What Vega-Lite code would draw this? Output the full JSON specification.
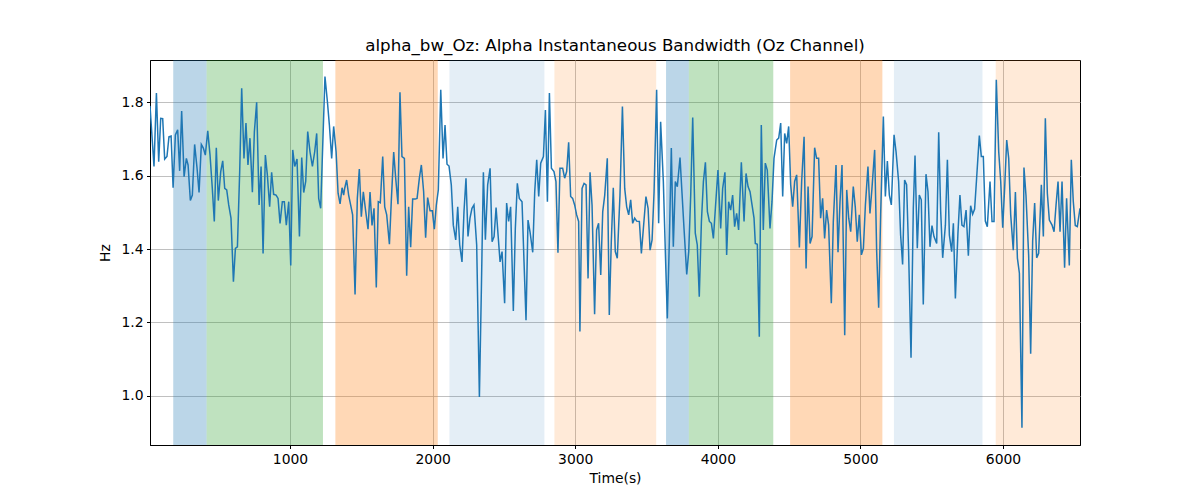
{
  "$schema": "https://vega.github.io/schema/vega-lite/v6.json",
  "autosize": "none",
  "width": 930,
  "height": 385,
  "padding": {"left": 150, "top": 60, "right": 120, "bottom": 55},
  "background": "white",
  "title": {"text": "alpha_bw_Oz: Alpha Instantaneous Bandwidth (Oz Channel)", "font": "DejaVu Sans", "fontSize": 16.7, "fontWeight": "normal", "color": "black", "anchor": "middle", "offset": 5},
  "config": {
    "view": {"stroke": "black", "strokeWidth": 1},
    "axis": {"labelFont": "DejaVu Sans", "labelFontSize": 13.9, "labelColor": "black", "titleFont": "DejaVu Sans", "titleFontSize": 13.9, "titleFontWeight": "normal", "titleColor": "black", "tickColor": "black", "tickSize": 3.5, "labelPadding": 3.5, "domainColor": "black", "gridColor": "#b0b0b0", "gridWidth": 0.8}
  },
  "datasets": {
    "bands": [
      {"start": 181, "end": 415, "kind": "a"},
      {"start": 415, "end": 1231, "kind": "b"},
      {"start": 1318, "end": 2036, "kind": "c"},
      {"start": 2118, "end": 2784, "kind": "d"},
      {"start": 2854, "end": 3568, "kind": "e"},
      {"start": 3637, "end": 3797, "kind": "a"},
      {"start": 3797, "end": 4389, "kind": "b"},
      {"start": 4507, "end": 5154, "kind": "c"},
      {"start": 5235, "end": 5856, "kind": "d"},
      {"start": 5949, "end": 6540, "kind": "e"}
    ],
    "series": [
      {"t": 18, "v": 1.79}, {"t": 46, "v": 1.625}, {"t": 63, "v": 1.825}, {"t": 79, "v": 1.638}, {"t": 93, "v": 1.756}, {"t": 107, "v": 1.755}, {"t": 121, "v": 1.645}, {"t": 137, "v": 1.652}, {"t": 151, "v": 1.706}, {"t": 166, "v": 1.708}, {"t": 180, "v": 1.567}, {"t": 196, "v": 1.711}, {"t": 212, "v": 1.725}, {"t": 226, "v": 1.613}, {"t": 240, "v": 1.776}, {"t": 257, "v": 1.597}, {"t": 273, "v": 1.647}, {"t": 285, "v": 1.629}, {"t": 301, "v": 1.532}, {"t": 315, "v": 1.547}, {"t": 331, "v": 1.685}, {"t": 348, "v": 1.62}, {"t": 362, "v": 1.554}, {"t": 378, "v": 1.685}, {"t": 392, "v": 1.675}, {"t": 406, "v": 1.656}, {"t": 423, "v": 1.722}, {"t": 439, "v": 1.656}, {"t": 455, "v": 1.565}, {"t": 469, "v": 1.475}, {"t": 483, "v": 1.676}, {"t": 497, "v": 1.532}, {"t": 514, "v": 1.611}, {"t": 528, "v": 1.64}, {"t": 542, "v": 1.565}, {"t": 556, "v": 1.561}, {"t": 570, "v": 1.52}, {"t": 586, "v": 1.484}, {"t": 603, "v": 1.311}, {"t": 617, "v": 1.402}, {"t": 631, "v": 1.406}, {"t": 647, "v": 1.611}, {"t": 661, "v": 1.838}, {"t": 677, "v": 1.647}, {"t": 691, "v": 1.743}, {"t": 705, "v": 1.629}, {"t": 719, "v": 1.702}, {"t": 736, "v": 1.555}, {"t": 750, "v": 1.72}, {"t": 766, "v": 1.8}, {"t": 783, "v": 1.52}, {"t": 797, "v": 1.625}, {"t": 811, "v": 1.388}, {"t": 827, "v": 1.656}, {"t": 841, "v": 1.602}, {"t": 857, "v": 1.515}, {"t": 871, "v": 1.609}, {"t": 885, "v": 1.549}, {"t": 902, "v": 1.547}, {"t": 916, "v": 1.538}, {"t": 930, "v": 1.47}, {"t": 946, "v": 1.529}, {"t": 960, "v": 1.529}, {"t": 974, "v": 1.465}, {"t": 991, "v": 1.529}, {"t": 1005, "v": 1.355}, {"t": 1019, "v": 1.67}, {"t": 1033, "v": 1.625}, {"t": 1049, "v": 1.645}, {"t": 1066, "v": 1.434}, {"t": 1082, "v": 1.649}, {"t": 1096, "v": 1.554}, {"t": 1110, "v": 1.584}, {"t": 1124, "v": 1.72},
      {"t": 1140, "v": 1.665}, {"t": 1157, "v": 1.625}, {"t": 1173, "v": 1.665}, {"t": 1187, "v": 1.715}, {"t": 1201, "v": 1.538}, {"t": 1215, "v": 1.511}, {"t": 1245, "v": 1.87}, {"t": 1262, "v": 1.802}, {"t": 1276, "v": 1.738}, {"t": 1292, "v": 1.647}, {"t": 1306, "v": 1.734}, {"t": 1323, "v": 1.665}, {"t": 1337, "v": 1.552}, {"t": 1351, "v": 1.523}, {"t": 1365, "v": 1.567}, {"t": 1376, "v": 1.547}, {"t": 1383, "v": 1.565}, {"t": 1397, "v": 1.588}, {"t": 1411, "v": 1.547}, {"t": 1425, "v": 1.52}, {"t": 1439, "v": 1.493}, {"t": 1456, "v": 1.276}, {"t": 1472, "v": 1.538}, {"t": 1486, "v": 1.618}, {"t": 1500, "v": 1.488}, {"t": 1514, "v": 1.556}, {"t": 1531, "v": 1.502}, {"t": 1547, "v": 1.454}, {"t": 1561, "v": 1.555}, {"t": 1575, "v": 1.464}, {"t": 1589, "v": 1.511}, {"t": 1605, "v": 1.295}, {"t": 1619, "v": 1.529}, {"t": 1633, "v": 1.526}, {"t": 1650, "v": 1.652}, {"t": 1664, "v": 1.515}, {"t": 1678, "v": 1.493}, {"t": 1697, "v": 1.413}, {"t": 1711, "v": 1.538}, {"t": 1727, "v": 1.664}, {"t": 1741, "v": 1.593}, {"t": 1757, "v": 1.522}, {"t": 1771, "v": 1.827}, {"t": 1785, "v": 1.652}, {"t": 1802, "v": 1.647}, {"t": 1818, "v": 1.327}, {"t": 1832, "v": 1.515}, {"t": 1846, "v": 1.405}, {"t": 1860, "v": 1.536}, {"t": 1877, "v": 1.536}, {"t": 1891, "v": 1.538}, {"t": 1907, "v": 1.593}, {"t": 1921, "v": 1.629}, {"t": 1937, "v": 1.556}, {"t": 1951, "v": 1.431}, {"t": 1965, "v": 1.54}, {"t": 1982, "v": 1.504}, {"t": 1998, "v": 1.504}, {"t": 2012, "v": 1.454}, {"t": 2026, "v": 1.52}, {"t": 2040, "v": 1.561}, {"t": 2057, "v": 1.834}, {"t": 2073, "v": 1.647}, {"t": 2087, "v": 1.738}, {"t": 2101, "v": 1.631}, {"t": 2115, "v": 1.626}, {"t": 2131, "v": 1.575}, {"t": 2145, "v": 1.465}, {"t": 2162, "v": 1.425}, {"t": 2176, "v": 1.515}, {"t": 2190, "v": 1.411},
      {"t": 2206, "v": 1.365}, {"t": 2220, "v": 1.502}, {"t": 2234, "v": 1.593}, {"t": 2248, "v": 1.434}, {"t": 2262, "v": 1.484}, {"t": 2276, "v": 1.511}, {"t": 2290, "v": 1.52}, {"t": 2309, "v": 1.411}, {"t": 2328, "v": 0.997}, {"t": 2342, "v": 1.293}, {"t": 2356, "v": 1.609}, {"t": 2370, "v": 1.425}, {"t": 2386, "v": 1.575}, {"t": 2403, "v": 1.62}, {"t": 2417, "v": 1.42}, {"t": 2431, "v": 1.434}, {"t": 2445, "v": 1.513}, {"t": 2459, "v": 1.438}, {"t": 2473, "v": 1.365}, {"t": 2487, "v": 1.393}, {"t": 2505, "v": 1.252}, {"t": 2519, "v": 1.525}, {"t": 2533, "v": 1.475}, {"t": 2547, "v": 1.515}, {"t": 2566, "v": 1.231}, {"t": 2580, "v": 1.456}, {"t": 2594, "v": 1.579}, {"t": 2608, "v": 1.538}, {"t": 2627, "v": 1.529}, {"t": 2641, "v": 1.365}, {"t": 2655, "v": 1.206}, {"t": 2669, "v": 1.479}, {"t": 2683, "v": 1.447}, {"t": 2702, "v": 1.391}, {"t": 2716, "v": 1.556}, {"t": 2730, "v": 1.643}, {"t": 2744, "v": 1.543}, {"t": 2758, "v": 1.634}, {"t": 2777, "v": 1.652}, {"t": 2791, "v": 1.779}, {"t": 2805, "v": 1.529}, {"t": 2819, "v": 1.825}, {"t": 2833, "v": 1.62}, {"t": 2851, "v": 1.611}, {"t": 2865, "v": 1.584}, {"t": 2879, "v": 1.39}, {"t": 2893, "v": 1.62}, {"t": 2912, "v": 1.62}, {"t": 2926, "v": 1.593}, {"t": 2940, "v": 1.611}, {"t": 2954, "v": 1.691}, {"t": 2968, "v": 1.543}, {"t": 2982, "v": 1.538}, {"t": 2996, "v": 1.52}, {"t": 3010, "v": 1.493}, {"t": 3024, "v": 1.475}, {"t": 3033, "v": 1.175}, {"t": 3048, "v": 1.565}, {"t": 3062, "v": 1.579}, {"t": 3076, "v": 1.575}, {"t": 3090, "v": 1.32}, {"t": 3104, "v": 1.609}, {"t": 3118, "v": 1.52}, {"t": 3136, "v": 1.222}, {"t": 3150, "v": 1.452}, {"t": 3164, "v": 1.47}, {"t": 3179, "v": 1.329}, {"t": 3193, "v": 1.502}, {"t": 3207, "v": 1.547}, {"t": 3225, "v": 1.647}, {"t": 3239, "v": 1.22},
      {"t": 3253, "v": 1.42}, {"t": 3267, "v": 1.567}, {"t": 3281, "v": 1.393}, {"t": 3295, "v": 1.375}, {"t": 3314, "v": 1.547}, {"t": 3331, "v": 1.788}, {"t": 3347, "v": 1.565}, {"t": 3361, "v": 1.515}, {"t": 3375, "v": 1.493}, {"t": 3389, "v": 1.534}, {"t": 3403, "v": 1.47}, {"t": 3417, "v": 1.484}, {"t": 3431, "v": 1.476}, {"t": 3450, "v": 1.475}, {"t": 3464, "v": 1.388}, {"t": 3478, "v": 1.456}, {"t": 3496, "v": 1.543}, {"t": 3511, "v": 1.511}, {"t": 3525, "v": 1.397}, {"t": 3539, "v": 1.425}, {"t": 3553, "v": 1.556}, {"t": 3571, "v": 1.834}, {"t": 3585, "v": 1.47}, {"t": 3599, "v": 1.747}, {"t": 3618, "v": 1.584}, {"t": 3632, "v": 1.393}, {"t": 3646, "v": 1.211}, {"t": 3660, "v": 1.42}, {"t": 3674, "v": 1.675}, {"t": 3688, "v": 1.406}, {"t": 3702, "v": 1.584}, {"t": 3716, "v": 1.57}, {"t": 3735, "v": 1.649}, {"t": 3749, "v": 1.552}, {"t": 3763, "v": 1.456}, {"t": 3782, "v": 1.331}, {"t": 3796, "v": 1.393}, {"t": 3810, "v": 1.547}, {"t": 3824, "v": 1.758}, {"t": 3842, "v": 1.443}, {"t": 3856, "v": 1.411}, {"t": 3870, "v": 1.27}, {"t": 3885, "v": 1.475}, {"t": 3899, "v": 1.584}, {"t": 3913, "v": 1.636}, {"t": 3927, "v": 1.502}, {"t": 3941, "v": 1.475}, {"t": 3955, "v": 1.47}, {"t": 3969, "v": 1.429}, {"t": 3983, "v": 1.511}, {"t": 4001, "v": 1.615}, {"t": 4020, "v": 1.456}, {"t": 4034, "v": 1.565}, {"t": 4050, "v": 1.609}, {"t": 4062, "v": 1.384}, {"t": 4076, "v": 1.529}, {"t": 4090, "v": 1.506}, {"t": 4104, "v": 1.547}, {"t": 4118, "v": 1.461}, {"t": 4132, "v": 1.497}, {"t": 4146, "v": 1.452}, {"t": 4165, "v": 1.636}, {"t": 4184, "v": 1.475}, {"t": 4198, "v": 1.606}, {"t": 4212, "v": 1.57}, {"t": 4226, "v": 1.556}, {"t": 4240, "v": 1.52}, {"t": 4254, "v": 1.484}, {"t": 4263, "v": 1.415}, {"t": 4277, "v": 1.413}, {"t": 4291, "v": 1.161},
      {"t": 4305, "v": 1.738}, {"t": 4319, "v": 1.452}, {"t": 4333, "v": 1.634}, {"t": 4347, "v": 1.615}, {"t": 4366, "v": 1.456}, {"t": 4380, "v": 1.529}, {"t": 4394, "v": 1.647}, {"t": 4413, "v": 1.697}, {"t": 4427, "v": 1.702}, {"t": 4441, "v": 1.743}, {"t": 4455, "v": 1.543}, {"t": 4469, "v": 1.715}, {"t": 4483, "v": 1.688}, {"t": 4497, "v": 1.734}, {"t": 4511, "v": 1.575}, {"t": 4525, "v": 1.515}, {"t": 4539, "v": 1.584}, {"t": 4553, "v": 1.602}, {"t": 4572, "v": 1.404}, {"t": 4588, "v": 1.584}, {"t": 4605, "v": 1.706}, {"t": 4619, "v": 1.347}, {"t": 4633, "v": 1.57}, {"t": 4647, "v": 1.415}, {"t": 4661, "v": 1.434}, {"t": 4679, "v": 1.676}, {"t": 4693, "v": 1.647}, {"t": 4707, "v": 1.647}, {"t": 4721, "v": 1.484}, {"t": 4735, "v": 1.538}, {"t": 4749, "v": 1.429}, {"t": 4763, "v": 1.506}, {"t": 4777, "v": 1.465}, {"t": 4796, "v": 1.252}, {"t": 4810, "v": 1.475}, {"t": 4829, "v": 1.629}, {"t": 4843, "v": 1.391}, {"t": 4857, "v": 1.529}, {"t": 4871, "v": 1.629}, {"t": 4890, "v": 1.165}, {"t": 4904, "v": 1.561}, {"t": 4918, "v": 1.484}, {"t": 4932, "v": 1.447}, {"t": 4950, "v": 1.57}, {"t": 4964, "v": 1.515}, {"t": 4978, "v": 1.42}, {"t": 4992, "v": 1.493}, {"t": 5007, "v": 1.384}, {"t": 5021, "v": 1.402}, {"t": 5035, "v": 1.52}, {"t": 5053, "v": 1.625}, {"t": 5067, "v": 1.497}, {"t": 5081, "v": 1.565}, {"t": 5100, "v": 1.67}, {"t": 5114, "v": 1.393}, {"t": 5128, "v": 1.24}, {"t": 5142, "v": 1.493}, {"t": 5161, "v": 1.761}, {"t": 5175, "v": 1.543}, {"t": 5189, "v": 1.64}, {"t": 5203, "v": 1.547}, {"t": 5217, "v": 1.52}, {"t": 5236, "v": 1.711}, {"t": 5250, "v": 1.665}, {"t": 5268, "v": 1.584}, {"t": 5282, "v": 1.438}, {"t": 5296, "v": 1.358}, {"t": 5310, "v": 1.588}, {"t": 5324, "v": 1.575}, {"t": 5338, "v": 1.393},
      {"t": 5355, "v": 1.104}, {"t": 5371, "v": 1.511}, {"t": 5383, "v": 1.655}, {"t": 5399, "v": 1.402}, {"t": 5413, "v": 1.547}, {"t": 5427, "v": 1.534}, {"t": 5441, "v": 1.249}, {"t": 5460, "v": 1.604}, {"t": 5474, "v": 1.556}, {"t": 5488, "v": 1.406}, {"t": 5502, "v": 1.464}, {"t": 5516, "v": 1.434}, {"t": 5535, "v": 1.415}, {"t": 5549, "v": 1.718}, {"t": 5563, "v": 1.502}, {"t": 5577, "v": 1.376}, {"t": 5596, "v": 1.465}, {"t": 5610, "v": 1.643}, {"t": 5624, "v": 1.438}, {"t": 5640, "v": 1.393}, {"t": 5652, "v": 1.47}, {"t": 5666, "v": 1.265}, {"t": 5684, "v": 1.443}, {"t": 5698, "v": 1.547}, {"t": 5712, "v": 1.465}, {"t": 5726, "v": 1.461}, {"t": 5741, "v": 1.506}, {"t": 5757, "v": 1.382}, {"t": 5773, "v": 1.518}, {"t": 5787, "v": 1.495}, {"t": 5801, "v": 1.509}, {"t": 5815, "v": 1.593}, {"t": 5834, "v": 1.709}, {"t": 5848, "v": 1.652}, {"t": 5862, "v": 1.652}, {"t": 5876, "v": 1.476}, {"t": 5890, "v": 1.461}, {"t": 5909, "v": 1.584}, {"t": 5923, "v": 1.475}, {"t": 5937, "v": 1.475}, {"t": 5953, "v": 1.861}, {"t": 5970, "v": 1.665}, {"t": 5984, "v": 1.584}, {"t": 5998, "v": 1.458}, {"t": 6012, "v": 1.57}, {"t": 6026, "v": 1.697}, {"t": 6040, "v": 1.647}, {"t": 6054, "v": 1.493}, {"t": 6072, "v": 1.397}, {"t": 6087, "v": 1.555}, {"t": 6101, "v": 1.375}, {"t": 6115, "v": 1.334}, {"t": 6133, "v": 0.913}, {"t": 6147, "v": 1.622}, {"t": 6161, "v": 1.547}, {"t": 6180, "v": 1.382}, {"t": 6194, "v": 1.115}, {"t": 6208, "v": 1.422}, {"t": 6222, "v": 1.525}, {"t": 6236, "v": 1.376}, {"t": 6250, "v": 1.388}, {"t": 6269, "v": 1.575}, {"t": 6283, "v": 1.434}, {"t": 6297, "v": 1.756}, {"t": 6311, "v": 1.552}, {"t": 6325, "v": 1.479}, {"t": 6344, "v": 1.465}, {"t": 6358, "v": 1.447}, {"t": 6372, "v": 1.52}, {"t": 6386, "v": 1.584}, {"t": 6400, "v": 1.447}, {"t": 6414, "v": 1.584}, {"t": 6432, "v": 1.349}, {"t": 6446, "v": 1.538}, {"t": 6465, "v": 1.355}, {"t": 6479, "v": 1.643}, {"t": 6493, "v": 1.529}, {"t": 6507, "v": 1.464}, {"t": 6521, "v": 1.461}, {"t": 6540, "v": 1.511}
    ]
  },
  "layer": [
    {
      "data": {"name": "bands"},
      "mark": {"type": "rect", "strokeWidth": 1},
      "encoding": {
        "x": {"field": "start", "type": "quantitative", "scale": {"domain": [18, 6540], "nice": false, "zero": false}, "axis": {"title": "Time(s)", "values": [1000, 2000, 3000, 4000, 5000, 6000], "format": "d", "grid": true, "titlePadding": 6}},
        "x2": {"field": "end"},
        "color": {"field": "kind", "type": "nominal", "legend": null, "scale": {"domain": ["a", "b", "c", "d", "e"], "range": ["rgba(31,119,180,0.3)", "rgba(44,160,44,0.3)", "rgba(255,127,14,0.3)", "rgba(31,119,180,0.12)", "rgba(255,127,14,0.16)"]}}
      }
    },
    {
      "data": {"name": "series"},
      "mark": {"type": "line", "color": "#1f77b4", "strokeWidth": 1.5, "clip": true},
      "encoding": {
        "x": {"field": "t", "type": "quantitative"},
        "y": {"field": "v", "type": "quantitative", "scale": {"domain": [0.866, 1.915], "nice": false, "zero": false}, "axis": {"title": "Hz", "values": [1.0, 1.2, 1.4, 1.6, 1.8], "format": ".1f", "grid": true, "titlePadding": 8}}
      }
    }
  ]
}
